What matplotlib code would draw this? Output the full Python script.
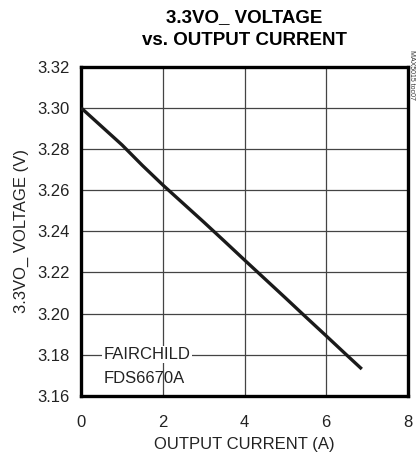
import matplotlib.pyplot as plt
from matplotlib import font_manager

# Datos
corriente = [0.0, 0.5, 1.0, 1.5, 2.0, 2.5, 3.0, 3.5, 4.0, 4.5, 5.0, 5.5, 6.0, 6.5, 6.87]
voltaje = [3.300, 3.291, 3.282, 3.272, 3.2625, 3.2535, 3.2445, 3.2353, 3.226,
           3.2168, 3.2076, 3.1983, 3.1891, 3.1798, 3.173]
xticks = [0, 2, 4, 6, 8]
yticks = [3.16, 3.18, 3.20, 3.22, 3.24, 3.26, 3.28, 3.30, 3.32]

nombres = [f.name for f in font_manager.fontManager.ttflist]
fuente = "Liberation Sans Narrow" if "Liberation Sans Narrow" in nombres else "Liberation Sans"
plt.rcParams['font.family'] = [fuente, 'DejaVu Sans']

fig = plt.figure(figsize=(4.18, 4.57), dpi=100)
ax = fig.add_axes([0.194, 0.134, 0.782, 0.720])

# Curva
ax.plot(corriente, voltaje, color="#1a1a1a", linewidth=2.4, solid_capstyle="butt", zorder=3)

# Ejes y grilla
ax.set_xlim(0, 8)
ax.set_ylim(3.16, 3.32)
ax.set_xticks(xticks)
ax.set_xticklabels([str(t) for t in xticks])
ax.set_yticks(yticks)
ax.set_yticklabels([f"{t:.2f}" for t in yticks])
ax.tick_params(length=0, labelsize=12, colors="#222222", pad=8)
ax.tick_params(axis="x", pad=14)
ax.grid(True, color="#444444", linewidth=0.9)
for s in ax.spines.values():
    s.set_linewidth(2.4)
    s.set_color("black")

ax.set_xlabel("OUTPUT CURRENT (A)", fontsize=12, color="#222222", labelpad=5)
ax.set_ylabel("3.3VO_ VOLTAGE (V)", fontsize=12, color="#222222", labelpad=6)

fig.text(0.585, 0.936, "3.3VO_ VOLTAGE\nvs. OUTPUT CURRENT", ha="center", va="center",
         fontsize=13.5, fontweight="bold", linespacing=1.45)

# Anotacion
ax.text(0.55, 3.18, "FAIRCHILD", fontsize=12, color="#222222", va="center", ha="left",
        bbox=dict(facecolor="white", edgecolor="none", pad=1), zorder=4)
ax.text(0.55, 3.1685, "FDS6670A", fontsize=12, color="#222222", va="center", ha="left", zorder=4)

fig.text(0.993, 0.835, "MAX5015 toc07", rotation=270, fontsize=5, ha="right", va="center",
         color="#333333")

plt.savefig("out.png", dpi=100)
